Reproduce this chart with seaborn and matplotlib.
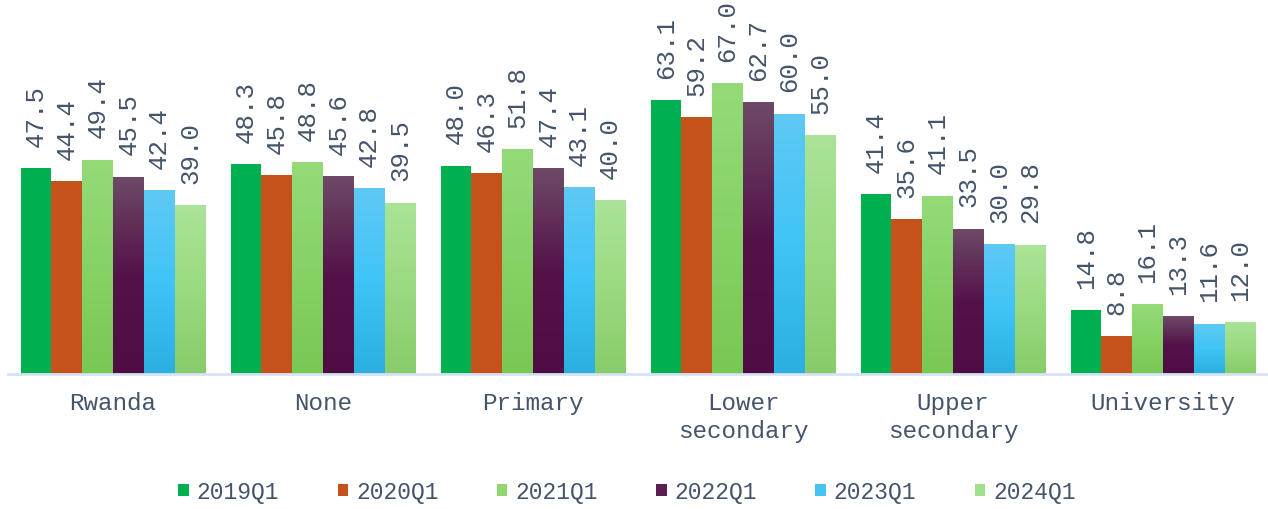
import numpy as np
import pandas as pd
import matplotlib
matplotlib.use("Agg")
import matplotlib.pyplot as plt
from matplotlib.colors import LinearSegmentedColormap
from matplotlib.patches import Patch
import seaborn as sns

# Share of population by education level, first quarter of each year
categories = ["Rwanda", "None", "Primary", "Lower\nsecondary", "Upper\nsecondary", "University"]
series = ["2019Q1", "2020Q1", "2021Q1", "2022Q1", "2023Q1", "2024Q1"]
v2019 = [47.5, 48.3, 48.0, 63.1, 41.4, 14.8]
v2020 = [44.4, 45.8, 46.3, 59.2, 35.6, 8.8]
v2021 = [49.4, 48.8, 51.8, 67.0, 41.1, 16.1]
v2022 = [45.5, 45.6, 47.4, 62.7, 33.5, 13.3]
v2023 = [42.4, 42.8, 43.1, 60.0, 30.0, 11.6]
v2024 = [39.0, 39.5, 40.0, 55.0, 29.8, 12.0]
values = [v2019, v2020, v2021, v2022, v2023, v2024]

rows = []
for s, vals in zip(series, values):
    for c, v in zip(categories, vals):
        rows.append({"category": c, "period": s, "value": v})
df = pd.DataFrame(rows)

base_colors = ["#00B050", "#C4521A", "#8FD870", "#5A1E50", "#45C4F4", "#A0E08A"]
# vertical fills (top -> bottom); single colour means a flat fill
gradients = [
    ["#00B050"],
    ["#C4521A"],
    ["#94DB78", "#86D266", "#79C755"],
    ["#6E4A67", "#541249", "#4F0D44"],
    ["#5FC9F3", "#40C4F7", "#2AAFE0"],
    ["#AAE498", "#9ADA80", "#88CC6A"],
]
text_color = "#44546A"
mono = ["Liberation Mono", "DejaVu Sans Mono"]

sns.set_theme(style="white")
plt.rcParams["font.family"] = mono

fig = plt.figure(figsize=(12.68, 5.10), dpi=100)
ax = fig.add_axes([8 / 1268, 135 / 510, 1260 / 1268, 375 / 510])

sns.barplot(data=df, x="category", y="value", hue="period",
            order=categories, hue_order=series, palette=base_colors,
            width=0.88, saturation=1, legend=False, ax=ax)

ax.set_xlim(-0.5, len(categories) - 0.5)
ax.set_ylim(0, 86.4)

for ci, cont in enumerate(ax.containers):
    stops = gradients[ci]
    for bar in cont:
        x0, w, h = bar.get_x(), bar.get_width(), bar.get_height()
        bar.set_edgecolor("none")
        if len(stops) > 1:
            cmap = LinearSegmentedColormap.from_list(f"g{ci}", stops)
            grad = np.linspace(0, 1, 256).reshape(-1, 1)
            im = ax.imshow(grad, cmap=cmap, aspect="auto", origin="upper",
                           extent=(x0, x0 + w, 0, h), zorder=bar.get_zorder() + 0.1,
                           interpolation="bilinear")
            im.set_clip_path(bar)
        ax.annotate(f"{h:.1f}", (x0 + w / 2, h), xytext=(0, 16),
                    textcoords="offset points", rotation=90,
                    ha="center", va="bottom", fontsize=18.5,
                    color=text_color, family=mono)

ax.set_xlim(-0.5, len(categories) - 0.5)
ax.set_ylim(0, 86.4)

for side in ["top", "right", "left"]:
    ax.spines[side].set_visible(False)
ax.spines["bottom"].set_color("#D5E3F4")
ax.spines["bottom"].set_linewidth(2)
ax.set_yticks([])
ax.set_xlabel("")
ax.set_ylabel("")
ax.tick_params(axis="x", length=0, pad=12, labelsize=17.5, labelcolor=text_color)
for lbl in ax.get_xticklabels():
    lbl.set_linespacing(1.3)

handles = [Patch(facecolor=c, edgecolor="none", label=s) for c, s in zip(base_colors, series)]
fig.legend(handles=handles, loc="center", bbox_to_anchor=(627 / 1268, 17 / 510),
           ncol=6, frameon=False, handlelength=0.45, handleheight=0.45,
           handletextpad=0.35, columnspacing=2.55, labelcolor=text_color,
           prop={"family": mono, "size": 16.5})

fig.savefig("out.png", dpi=100)
